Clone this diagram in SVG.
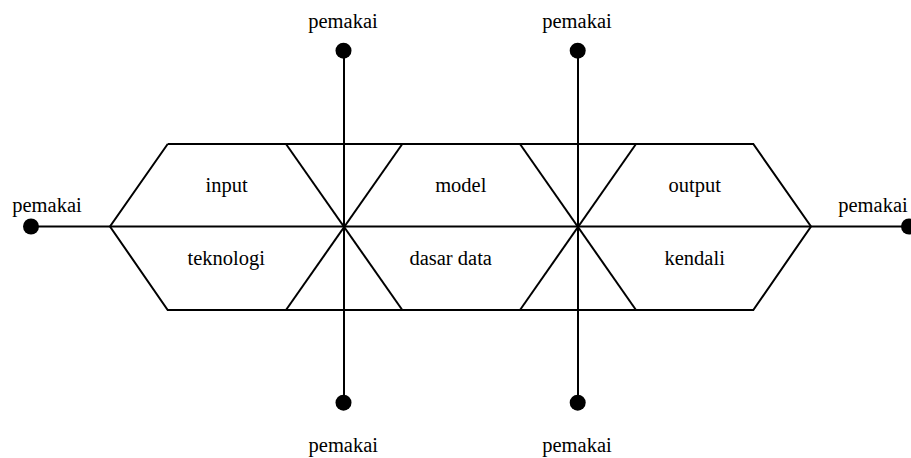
<svg xmlns="http://www.w3.org/2000/svg" width="911" height="458" viewBox="0 0 911 458">
<style>
.ln{stroke:#000;stroke-width:2;fill:none;stroke-linecap:butt}
.dot{fill:#000}
text{font-family:"Liberation Serif","Times New Roman",serif;font-size:20.5px;fill:#000;text-anchor:middle}
</style>
<rect width="911" height="458" fill="#fff"/>
<g id="connectors">
<polyline class="ln" points="167.7,144 753.3,144 811,226.5 753.3,310 167.7,310 110,226.5 167.7,144"/>
<line class="ln" x1="31" y1="226.5" x2="909" y2="226.5"/>
<line class="ln" x1="286" y1="144" x2="402.3" y2="310"/>
<line class="ln" x1="402.3" y1="144" x2="286" y2="310"/>
<line class="ln" x1="520" y1="144" x2="636" y2="310"/>
<line class="ln" x1="636" y1="144" x2="520" y2="310"/>
<line class="ln" x1="344" y1="50.7" x2="344" y2="402.7"/>
<line class="ln" x1="578" y1="50.7" x2="578" y2="402.7"/>
</g>
<g id="input"><text x="226.7" y="191.7">input</text></g>
<g id="teknologi"><text x="226.3" y="265">teknologi</text></g>
<g id="model"><text x="460.8" y="191.7">model</text></g>
<g id="dasar-data"><text x="450.7" y="265">dasar data</text></g>
<g id="output"><text x="694.7" y="191.7">output</text></g>
<g id="kendali"><text x="694.7" y="265">kendali</text></g>
<g id="pemakai-left"><circle class="dot" cx="31" cy="226.5" r="8"/><text x="47" y="212">pemakai</text></g>
<g id="pemakai-right"><circle class="dot" cx="909" cy="226.5" r="8"/><text x="873" y="212">pemakai</text></g>
<g id="pemakai-top1"><circle class="dot" cx="343.5" cy="50.7" r="8"/><text x="343" y="28">pemakai</text></g>
<g id="pemakai-top2"><circle class="dot" cx="577.7" cy="50.7" r="8"/><text x="577" y="28">pemakai</text></g>
<g id="pemakai-bottom1"><circle class="dot" cx="343.5" cy="402.7" r="8"/><text x="343.3" y="451.7">pemakai</text></g>
<g id="pemakai-bottom2"><circle class="dot" cx="577.7" cy="402.7" r="8"/><text x="577" y="451.7">pemakai</text></g>
</svg>
